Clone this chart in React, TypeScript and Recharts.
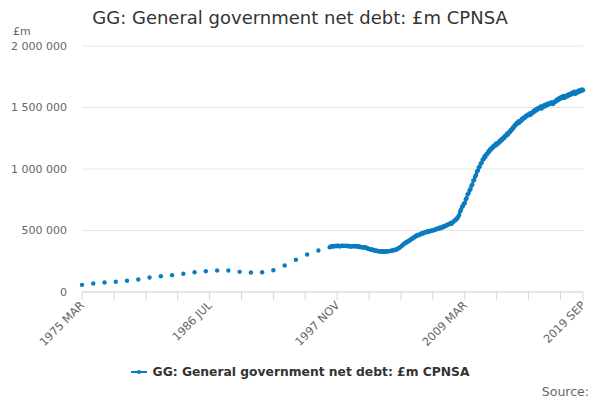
import React from "react";
import { LineChart, Line, XAxis, YAxis, CartesianGrid } from "recharts";

// annual values 1975-1996, £bn (plotted at March of each year)
const annualStart = 1975;
const annualValues = [
  58, 69, 77, 83, 91, 102, 118, 128, 137, 148, 161, 169, 175, 175, 164, 159,
  161, 177, 215, 262, 305, 337,
];

// monthly values from 1997 MAR to 2019 SEP, £bn
const monthlyStart = { year: 1997, month: 2 };
const monthlyValues = [
  // 1997 Mar-Dec
  364, 368, 371, 373, 370, 374, 375, 372, 376, 377,
  // 1998
  372, 371, 373, 376, 374, 377, 375, 373, 376, 374, 372, 375,
  // 1999
  370, 369, 371, 373, 372, 374, 371, 369, 372, 370, 366, 369,
  // 2000
  364, 362, 363, 364, 362, 360, 356, 352, 350, 348, 345, 346,
  // 2001
  342, 339, 338, 336, 335, 333, 331, 330, 329, 330, 329, 331,
  // 2002
  328, 327, 329, 331, 330, 332, 333, 334, 336, 338, 340, 342,
  // 2003
  344, 346, 349, 355, 357, 365, 369, 377, 382, 391, 395, 402,
  // 2004
  402, 410, 412, 421, 422, 432, 433, 442, 444, 452, 453, 463,
  // 2005
  458, 466, 466, 473, 472, 480, 478, 485, 484, 490, 488, 496,
  // 2006
  490, 496, 495, 502, 499, 505, 504, 511, 510, 517, 515, 523,
  // 2007
  517, 524, 524, 532, 531, 539, 538, 546, 546, 554, 553, 562,
  // 2008
  555, 565, 572, 582, 584, 596, 598, 612, 626, 654, 669, 692,
  // 2009
  700, 718, 724, 752, 765, 794, 802, 826, 836, 862, 874, 904,
  // 2010
  910, 938, 952, 980, 988, 1014, 1020, 1046, 1050, 1076, 1080, 1104,
  // 2011
  1098, 1120, 1122, 1142, 1140, 1160, 1158, 1176, 1172, 1190, 1188, 1206,
  // 2012
  1196, 1212, 1210, 1228, 1224, 1242, 1238, 1254, 1252, 1270, 1268, 1286,
  // 2013
  1280, 1300, 1298, 1318, 1316, 1336, 1334, 1354, 1354, 1372, 1368, 1386,
  // 2014
  1376, 1392, 1390, 1408, 1404, 1420, 1416, 1432, 1428, 1442, 1438, 1452,
  // 2015
  1440, 1456, 1454, 1470, 1465, 1482, 1476, 1490, 1486, 1499, 1493, 1508,
  // 2016
  1492, 1508, 1506, 1520, 1512, 1527, 1520, 1532, 1526, 1538, 1530, 1544,
  // 2017
  1528, 1543, 1542, 1558, 1552, 1568, 1563, 1577, 1572, 1586, 1579, 1594,
  // 2018
  1578, 1591, 1587, 1601, 1593, 1608, 1602, 1614, 1608, 1622, 1614, 1629,
  // 2019 Jan-Sep
  1612, 1626, 1622, 1636, 1628, 1642, 1634, 1646, 1640,
];

// months counted from 1975 MAR
const xTicks = [0, 34, 68, 102, 136, 170, 204, 238, 272, 306, 340, 374, 408, 442, 476, 510, 534];
const xTickLabels: Record<number, string> = {
  0: "1975 MAR",
  136: "1986 JUL",
  272: "1997 NOV",
  408: "2009 MAR",
  534: "2019 SEP",
};
const yTicks = [0, 500000, 1000000, 1500000, 2000000];

const seriesName = "GG: General government net debt: £m CPNSA";
const color = "#0b7bc1";
const font = "'DejaVu Sans', Verdana, sans-serif";

const monthIndex = (year: number, month: number) => (year - annualStart) * 12 + month - 2;

const data: { m: number; v: number | null }[] = [];
annualValues.forEach((v, i) => {
  data.push({ m: i * 12, v: v * 1000 });
  data.push({ m: i * 12 + 6, v: null }); // gap so annual points stay unjoined
});
const m0 = monthIndex(monthlyStart.year, monthlyStart.month);
monthlyValues.forEach((v, i) => data.push({ m: m0 + i, v: v * 1000 }));

const fmt = (v: number) => String(v).replace(/\B(?=(\d{3})+(?!\d))/g, " ");

const XTick = (props: any) => {
  const { x, y, payload } = props;
  const label = xTickLabels[payload.value];
  if (!label) return null;
  const ax = x + 3;
  const ay = y + 4;
  return (
    <text
      x={ax}
      y={ay}
      transform={`rotate(-45 ${ax} ${ay})`}
      textAnchor="end"
      fontSize={11.3}
      fill="#666"
      fontFamily={font}
    >
      {label}
    </text>
  );
};

export default function App() {
  return (
    <div
      style={{
        position: "absolute",
        left: 0,
        top: 0,
        width: 600,
        height: 400,
        background: "#fff",
        fontFamily: font,
      }}
    >
      <div
        style={{
          position: "absolute",
          top: 7,
          width: 600,
          textAlign: "center",
          fontSize: 18,
          color: "#333",
        }}
      >
        {seriesName}
      </div>
      <div style={{ position: "absolute", left: 13, top: 25, fontSize: 11, color: "#666" }}>£m</div>
      <LineChart width={600} height={400} margin={{ top: 46, right: 17, left: 0, bottom: 0 }} data={data}>
        <CartesianGrid vertical={false} stroke="#e6e6e6" />
        <XAxis
          dataKey="m"
          type="number"
          domain={[0, 534]}
          ticks={xTicks}
          interval={0}
          height={108}
          stroke="#ccd6eb"
          tickSize={8}
          tickMargin={2}
          tick={<XTick />}
        />
        <YAxis
          width={82}
          domain={[0, 2000000]}
          ticks={yTicks}
          axisLine={false}
          tickLine={false}
          tickSize={8}
          tickMargin={7}
          tickFormatter={fmt}
          tick={{ fontSize: 11, fill: "#666", fontFamily: font }}
        />
        <Line
          dataKey="v"
          name={seriesName}
          stroke={color}
          strokeWidth={2}
          dot={{ r: 2.2, fill: color, stroke: color, strokeWidth: 0 }}
          isAnimationActive={false}
        />
      </LineChart>
      <div
        style={{
          position: "absolute",
          top: 365,
          left: 0,
          width: 600,
          display: "flex",
          justifyContent: "center",
          alignItems: "center",
        }}
      >
        <svg width={16} height={10} style={{ marginRight: 6 }}>
          <line x1={0} y1={5} x2={16} y2={5} stroke={color} strokeWidth={2} />
          <circle cx={8} cy={5} r={2} fill={color} />
        </svg>
        <span style={{ fontSize: 12.3, fontWeight: "bold", color: "#333" }}>{seriesName}</span>
      </div>
      <div style={{ position: "absolute", right: 11, top: 384, fontSize: 12.5, color: "#666" }}>Source:</div>
    </div>
  );
}
